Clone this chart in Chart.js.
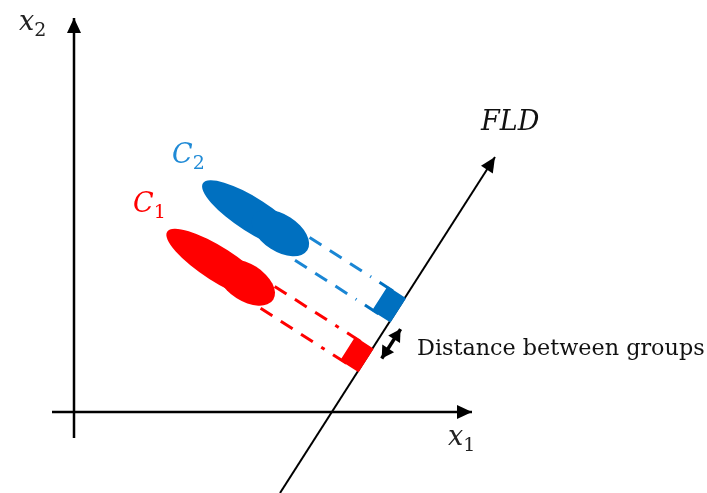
<!DOCTYPE html>
<html lang="en">
<head>
    <meta charset="UTF-8">
    <title>FLD projection</title>
    <script src="https://cdn.jsdelivr.net/npm/chart.js@4.4.1/dist/chart.umd.min.js"></script>
    <style>
        body { margin: 0; background: #fff; }
        .chart-container { width: 707px; height: 493px; }
    </style>
</head>
<body>
    <div class="chart-container">
        <canvas id="fld-chart"></canvas>
    </div>

    <script>
        // Diagram coordinates (picture units, y grows downward)
        const axisX1 = [{x: 52, y: 412}, {x: 472, y: 412}];
        const axisX2 = [{x: 74, y: 438}, {x: 74, y: 18}];
        const fldLine = [{x: 280, y: 493}, {x: 495, y: 157}];

        // Projection lines from each group onto the FLD axis
        const c2Dashes = [
            [{x: 309.6, y: 237.5}, {x: 371.1, y: 276.9}],
            [{x: 295.0, y: 260.2}, {x: 356.5, y: 299.6}]
        ];
        const c1Dashes = [
            [{x: 274.7, y: 286.4}, {x: 338.7, y: 327.4}],
            [{x: 260.6, y: 308.3}, {x: 324.6, y: 349.3}]
        ];
        const c2Prongs = [
            [{x: 379.5, y: 282.3}, {x: 392.9, y: 290.9}],
            [{x: 364.9, y: 305.0}, {x: 378.4, y: 313.7}]
        ];
        const c1Prongs = [
            [{x: 347.1, y: 332.8}, {x: 360.6, y: 341.5}],
            [{x: 333.0, y: 354.7}, {x: 346.5, y: 363.3}]
        ];
        // Projected spread of each group on the FLD axis
        const c2Span = [{x: 387.9, y: 287.7}, {x: 404.7, y: 298.5}, {x: 390.2, y: 321.2}, {x: 373.3, y: 310.4}];
        const c1Span = [{x: 355.5, y: 338.2}, {x: 372.3, y: 349.0}, {x: 358.3, y: 370.9}, {x: 341.5, y: 360.1}];

        // Group clouds: centre, semi-axes
        const c2Blobs = [{x: 253.4, y: 215.7, a: 60, b: 17}, {x: 280.4, y: 233.0, a: 32, b: 18.5}];
        const c1Blobs = [{x: 218.5, y: 264.6, a: 61, b: 17}, {x: 246.3, y: 282.4, a: 32, b: 18.5}];
        const blobAngle = 32.7;

        const gapArrow = [{x: 381.7, y: 358.5}, {x: 400.6, y: 329.1}];

        const BLUE = '#0070c0';
        const BLUE_DASH = '#1a86d4';
        const RED = '#ff0000';

        function seg(points, color, width, dash) {
            return {
                data: points,
                showLine: true,
                borderColor: color,
                borderWidth: width,
                borderDash: dash || [],
                borderCapStyle: 'butt',
                pointRadius: 0,
                fill: false
            };
        }

        const datasets = [
            seg(axisX1, '#000', 2.5),
            seg(axisX2, '#000', 2.5),
            seg(fldLine, '#000', 2),
            seg(gapArrow, '#000', 3.5)
        ];
        c2Dashes.forEach(d => datasets.push(seg(d, BLUE_DASH, 3, [14, 10])));
        c1Dashes.forEach(d => datasets.push(seg(d, RED, 3, [14, 10])));
        c2Prongs.forEach(d => datasets.push(seg(d, BLUE, 3)));
        c1Prongs.forEach(d => datasets.push(seg(d, RED, 3)));

        // shapes, arrowheads and labels drawn with the chart's scales
        const diagramPlugin = {
            id: 'diagram',
            afterDatasetsDraw(chart) {
                const ctx = chart.ctx;
                const sx = chart.scales.x, sy = chart.scales.y;
                const px = p => [sx.getPixelForValue(p.x), sy.getPixelForValue(p.y)];
                const kx = Math.abs(sx.getPixelForValue(1) - sx.getPixelForValue(0));

                function polygon(pts, color) {
                    ctx.beginPath();
                    pts.forEach((p, i) => {
                        const [x, y] = px(p);
                        i ? ctx.lineTo(x, y) : ctx.moveTo(x, y);
                    });
                    ctx.closePath();
                    ctx.fillStyle = color;
                    ctx.strokeStyle = color;
                    ctx.lineWidth = 2;
                    ctx.fill();
                    ctx.stroke();
                }

                function blobs(list, color) {
                    ctx.fillStyle = color;
                    list.forEach(e => {
                        const [x, y] = px(e);
                        ctx.beginPath();
                        ctx.ellipse(x, y, e.a * kx, e.b * kx, blobAngle * Math.PI / 180, 0, Math.PI * 2);
                        ctx.fill();
                    });
                }

                function head(from, to, len, half) {
                    const [x0, y0] = px(from), [x1, y1] = px(to);
                    const ang = Math.atan2(y1 - y0, x1 - x0);
                    ctx.save();
                    ctx.translate(x1, y1);
                    ctx.rotate(ang);
                    ctx.beginPath();
                    ctx.moveTo(0, 0);
                    ctx.lineTo(-len, -half);
                    ctx.lineTo(-len, half);
                    ctx.closePath();
                    ctx.fillStyle = '#000';
                    ctx.fill();
                    ctx.restore();
                }

                ctx.save();
                blobs(c2Blobs, BLUE);
                blobs(c1Blobs, RED);
                polygon(c2Span, BLUE);
                polygon(c1Span, RED);

                head(axisX1[0], axisX1[1], 15, 7);
                head(axisX2[0], axisX2[1], 15, 7);
                head(fldLine[0], fldLine[1], 15, 7);
                head(gapArrow[0], gapArrow[1], 12, 7);
                head(gapArrow[1], gapArrow[0], 12, 7);

                // labels
                function math(main, sub, x, y, color) {
                    ctx.fillStyle = color;
                    ctx.font = 'italic 27px "DejaVu Serif"';
                    ctx.fillText(main, x, y);
                    const w = ctx.measureText(main).width;
                    if (sub) {
                        ctx.font = '19px "DejaVu Serif"';
                        ctx.fillText(sub, x + w, y + 6);
                    }
                }
                ctx.textBaseline = 'alphabetic';
                ctx.textAlign = 'left';
                math('x', '2', 19, 30, '#222');
                math('x', '1', 448, 445, '#222');
                math('FLD', '', 481, 130, '#111');
                math('C', '2', 172, 163, '#1f8ad6');
                math('C', '1', 133, 212, RED);

                let size = 22;
                ctx.font = size + 'px "DejaVu Serif"';
                const w = ctx.measureText('Distance between groups').width;
                size = size * 288 / w;
                ctx.font = size.toFixed(1) + 'px "DejaVu Serif"';
                ctx.fillStyle = '#111';
                ctx.fillText('Distance between groups', 417, 355);
                ctx.restore();
            }
        };

        new Chart(document.getElementById('fld-chart').getContext('2d'), {
            type: 'scatter',
            data: { datasets: datasets },
            options: {
                responsive: true,
                maintainAspectRatio: false,
                animation: false,
                layout: { padding: 0 },
                plugins: {
                    legend: { display: false },
                    tooltip: { enabled: false }
                },
                scales: {
                    x: { type: 'linear', min: 0, max: 707, display: false },
                    y: { type: 'linear', min: 0, max: 493, reverse: true, display: false }
                }
            },
            plugins: [diagramPlugin]
        });
    </script>
</body>
</html>
